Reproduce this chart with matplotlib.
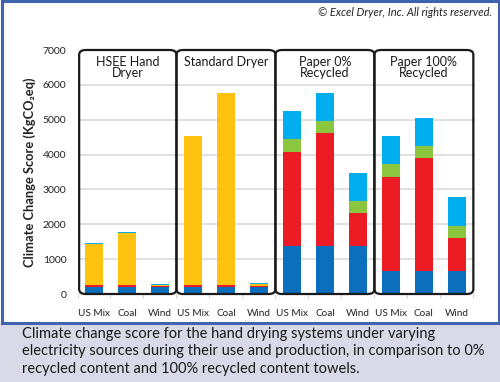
import matplotlib
matplotlib.use("Agg")
import matplotlib.pyplot as plt
from matplotlib.patches import FancyBboxPatch, Rectangle
import numpy as np

plt.rcParams['font.family'] = ['Lato', 'DejaVu Sans']

# data (KgCO2eq)
sources = ["US Mix", "Coal", "Wind"] * 4
groups = ["HSEE Hand\nDryer", "Standard Dryer", "Paper 0%\nRecycled", "Paper 100%\nRecycled"]
blue = [200, 200, 200, 200, 200, 200, 1386, 1386, 1386, 669, 669, 669]
red = [60, 70, 20, 60, 70, 20, 2696, 3222, 928, 2696, 3222, 928]
yellow = [1170, 1490, 40, 4260, 5490, 60, 0, 0, 0, 0, 0, 0]
green = [0, 0, 0, 0, 0, 0, 364, 363, 353, 363, 363, 363]
cyan = [20, 20, 20, 20, 20, 40, 803, 784, 813, 804, 803, 812]

caption = ["Climate change score for the hand drying systems under varying",
           "electricity sources during their use and production, in comparison to 0%",
           "recycled content and 100% recycled content towels."]

colors = ["#0b6fbd", "#ed1c24", "#ffc20e", "#8cc63f", "#00aeef"]

fig = plt.figure(figsize=(5, 3.82), dpi=100)

# caption band and border
fig.patches.append(Rectangle((0, 0), 1, 59 / 382, transform=fig.transFigure,
                             facecolor="#d9d9e7", edgecolor="none", zorder=0))
fig.patches.append(Rectangle((0.003, 59 / 382), 0.994, 1 - 59 / 382 - 0.003,
                             transform=fig.transFigure, facecolor="none",
                             edgecolor="#3f63ad", lw=2.2, zorder=1))

ax = fig.add_axes([77.5 / 500, 1 - 294 / 382, 397.5 / 500, 244 / 382])
x = np.arange(len(sources))
bottom = np.zeros(len(sources))
for vals, c in zip([blue, red, yellow, green, cyan], colors):
    ax.bar(x, vals, width=0.55, bottom=bottom, color=c, zorder=3)
    bottom += np.array(vals)

ax.set_xlim(-0.5, 11.55)
ax.set_ylim(0, 7000)
ax.set_yticks(range(0, 7001, 1000))
ax.yaxis.grid(True, color="#dcdcdc", lw=1.2, zorder=0)
ax.set_axisbelow(True)
for s in ax.spines.values():
    s.set_visible(False)
ax.tick_params(axis="y", length=0, pad=8, labelsize=7.5, labelcolor="#222222")
ax.set_xticks(x)
ax.set_xticklabels(sources)
ax.tick_params(axis="x", length=0, pad=11, labelsize=7.2, labelcolor="#222222")
ax.set_xticks(np.arange(-0.5, 12, 1), minor=True)
ax.set_xticklabels([], minor=True)
ax.tick_params(axis="x", which="minor", length=3, color="#cccccc")
ax.set_ylabel("Climate Change Score (KgCO₂eq)", fontsize=9.3, fontweight="bold",
              labelpad=5, color="#222222")

# rounded group boxes
edges = [(-0.45, 2.5), (2.5, 5.5), (5.5, 8.5), (8.5, 11.5)]
for (a, b), name in zip(edges, groups):
    box = FancyBboxPatch((a, 0), b - a, 7000,
                         boxstyle="round,pad=0,rounding_size=0.2",
                         mutation_aspect=700,
                         facecolor="none", edgecolor="#1a1a1a", lw=1.6,
                         zorder=4, clip_on=False)
    ax.add_patch(box)
    ax.text((a + b) / 2, 6830, name, ha="center", va="top", fontsize=9,
            linespacing=0.95, color="#1a1a1a", zorder=5)

fig.text(0.984, 0.968, "© Excel Dryer, Inc. All rights reserved.", ha="right",
         va="center", fontsize=8, style="italic", color="#222222")

for i, line in enumerate(caption):
    fig.text(22 / 500, 1 - (334 + 17.5 * i) / 382, line, ha="left", va="center",
             fontsize=10.5, color="#1a1a1a")

fig.savefig("out.png", dpi=100)
